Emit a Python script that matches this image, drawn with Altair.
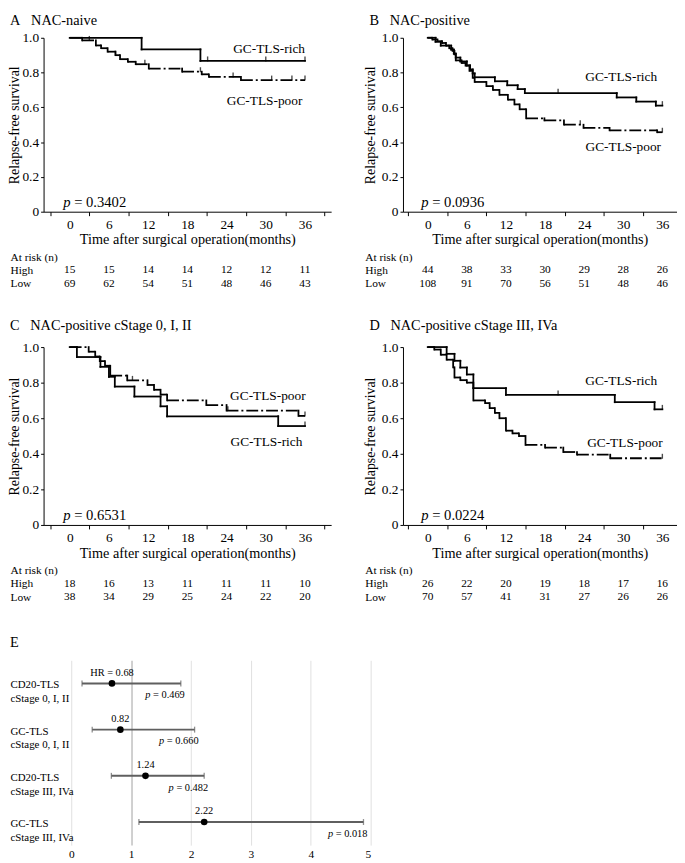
import altair as alt
import pandas as pd

FONT = "Liberation Serif"
MONTHS = [0, 6, 12, 18, 24, 30, 36]
RISK_ROWS = ["At risk (n)", "High", "Low"]
Y_TICKS = [0, 0.2, 0.4, 0.6, 0.8, 1.0]
X_TICKS = [-3, 0, 3, 6, 9, 12, 15, 18, 21, 24, 27, 30, 33, 36, 39]

# ---------------- Panel A : NAC-naive ----------------
A_rich_t = [11.0, 20.0]
A_rich_s = [0.933, 0.867]
A_rich_cens = [21.1, 30.0, 36.0]
A_poor_t = [1.9, 4.0, 4.8, 5.8, 7.0, 7.7, 8.9, 10.1, 12.1, 17.2, 20.2, 21.3, 26.2]
A_poor_s = [0.985, 0.956, 0.940, 0.920, 0.900, 0.877, 0.862, 0.848, 0.823, 0.805, 0.790, 0.775, 0.757]
A_poor_cens = [3.0, 7.0, 11.5, 20.0, 25.0, 30.9, 34.0, 36.0]
A_high = [15, 15, 14, 14, 12, 12, 11]
A_low = [69, 62, 54, 51, 48, 46, 43]
A_p = "0.3402"

# ---------------- Panel B : NAC-positive ----------------
B_rich_t = [1.2, 2.0, 3.6, 4.0, 4.3, 5.0, 6.0, 6.5, 6.9, 7.2, 10.3, 12.2, 13.8, 14.9, 29.0, 32.0, 35.0]
B_rich_s = [0.977, 0.955, 0.932, 0.909, 0.886, 0.864, 0.841, 0.818, 0.795, 0.773,
            0.750, 0.727, 0.705, 0.682, 0.657, 0.633, 0.610]
B_rich_cens = [20.0, 36.0]
B_poor_t = [0.7, 1.5, 2.2, 2.8, 3.3, 3.8, 4.1, 4.3, 5.2, 5.8, 6.4, 6.9, 7.2, 9.0, 10.0, 11.0,
            12.3, 13.3, 14.1, 15.1, 17.9, 20.9, 23.9, 27.9, 35.2]
B_poor_s = [0.990, 0.980, 0.970, 0.955, 0.940, 0.925, 0.905, 0.870, 0.855, 0.840, 0.810, 0.770,
            0.746, 0.722, 0.700, 0.672, 0.644, 0.617, 0.589, 0.537, 0.525, 0.500, 0.482, 0.468, 0.457]
B_poor_cens = [23.4, 36.0]
B_high = [44, 38, 33, 30, 29, 28, 26]
B_low = [108, 91, 70, 56, 51, 48, 46]
B_p = "0.0936"

# ---------------- Panel C : NAC-positive cStage 0, I, II ----------------
C_rich_t = [1.1, 4.7, 6.0, 6.9, 9.9, 13.9, 14.9, 31.9]
C_rich_s = [0.944, 0.889, 0.833, 0.778, 0.722, 0.667, 0.611, 0.556]
C_rich_cens = [36.0]
C_poor_t = [2.9, 3.9, 4.6, 5.4, 6.2, 8.8, 11.9, 12.9, 13.9, 14.9, 20.9, 24.0, 35.0]
C_poor_s = [0.974, 0.947, 0.921, 0.895, 0.840, 0.813, 0.787, 0.760, 0.733, 0.700, 0.674, 0.643, 0.613]
C_poor_cens = [9.6, 24.2, 36.0]
C_high = [18, 16, 13, 11, 11, 11, 10]
C_low = [38, 34, 29, 25, 24, 22, 20]
C_p = "0.6531"

# ---------------- Panel D : NAC-positive cStage III, IVa ----------------
D_rich_t = [2.9, 4.1, 5.0, 6.0, 7.0, 12.0, 28.7, 34.8]
D_rich_s = [0.962, 0.923, 0.885, 0.846, 0.769, 0.731, 0.690, 0.650]
D_rich_cens = [20.0, 36.0]
D_poor_t = [1.0, 2.0, 2.9, 3.9, 4.1, 5.0, 6.0, 7.0, 8.8, 9.5, 10.3, 11.0, 12.0, 13.0, 14.0,
            15.0, 18.0, 20.8, 22.9, 28.0]
D_poor_s = [0.986, 0.957, 0.929, 0.886, 0.829, 0.814, 0.800, 0.700, 0.685, 0.657, 0.630, 0.600,
            0.530, 0.515, 0.500, 0.450, 0.435, 0.410, 0.395, 0.375]
D_poor_cens = [36.0]
D_high = [26, 22, 20, 19, 18, 17, 16]
D_low = [70, 57, 41, 31, 27, 26, 26]
D_p = "0.0224"

# ---------------- Panel E : hazard ratios ----------------
E_rows = ["CD20-TLS|cStage 0, I, II", "GC-TLS|cStage 0, I, II",
          "CD20-TLS|cStage III, IVa", "GC-TLS|cStage III, IVa"]
E_hr = [0.68, 0.82, 1.24, 2.22]
E_lo = [0.18, 0.35, 0.67, 1.13]
E_hi = [1.83, 2.06, 2.22, 4.88]
E_hr_text = ["HR = 0.68", "0.82", "1.24", "2.22"]
E_p = ["0.469", "0.660", "0.482", "0.018"]


def step_at(ts, ss, t):
    s = 1.0
    for ti, si in zip(ts, ss):
        if ti <= t:
            s = si
    return s


def step_frames(ts, ss, end=36.0):
    horiz, vert = [], []
    pt, ps = 0.0, 1.0
    for t, s in zip(ts, ss):
        horiz.append({"x": pt, "x2": t, "y": ps, "y2": ps})
        vert.append({"x": t, "x2": t, "y": ps, "y2": s})
        pt, ps = t, s
    horiz.append({"x": pt, "x2": end, "y": ps, "y2": ps})
    return pd.DataFrame(horiz), pd.DataFrame(vert)


def km_panel(letter, name, rich, poor, high, low, pval, rich_lab, poor_lab,
             xdom, width, height, title_offset, ytitle_pad, row_pad):
    rich_t, rich_s, rich_c = rich
    poor_t, poor_s, poor_c = poor
    xs = alt.Scale(domain=xdom, nice=False, zero=False)
    ys = alt.Scale(domain=[0, 1], nice=False, zero=False)
    xaxis = alt.Axis(
        values=[v for v in X_TICKS if xdom[0] <= v <= xdom[1]],
        labelExpr="(datum.value % 6 == 0 && datum.value >= 0) ? datum.label : ''",
        tickOpacity={"condition": {"test": "datum.value % 6 != 0", "value": 1}, "value": 0},
        tickSize=4, labelPadding=2, labelFontSize=13.5, labelFlush=False, labelOverlap=False,
        title="Time after surgical operation(months)", titleFontSize=14.4,
        titleFontWeight="normal", titlePadding=2, grid=False,
        domainColor="black", tickColor="black",
    )
    yaxis = alt.Axis(
        values=Y_TICKS,
        labelExpr="datum.value == 0 ? '0' : format(datum.value, '.1f')",
        tickSize=3, labelPadding=2, labelFontSize=13.5, labelFlush=False, labelOverlap=False,
        title="Relapse-free survival", titleFontSize=14, titleFontWeight="normal",
        titlePadding=ytitle_pad, grid=False, domainColor="black", tickColor="black",
    )

    def X(field):
        return alt.X(field, scale=xs, axis=xaxis)

    def Y(field):
        return alt.Y(field, scale=ys, axis=yaxis)

    rh, rv = step_frames(rich_t, rich_s)
    ph, pv = step_frames(poor_t, poor_s)
    rich_df = pd.concat([rh, rv], ignore_index=True)

    rich_line = alt.Chart(rich_df).mark_rule(
        color="black", strokeWidth=1.8, strokeCap="square").encode(
        x=X("x:Q"), x2="x2:Q", y=Y("y:Q"), y2="y2:Q")
    poor_h = alt.Chart(ph).mark_rule(
        color="black", strokeWidth=1.8, strokeDash=[12, 3, 2, 3]).encode(
        x=X("x:Q"), x2="x2:Q", y=Y("y:Q"), y2="y2:Q")
    poor_v = alt.Chart(pv).mark_rule(
        color="black", strokeWidth=1.8, strokeCap="square").encode(
        x=X("x:Q"), x2="x2:Q", y=Y("y:Q"), y2="y2:Q")

    cens = pd.DataFrame({
        "x": list(rich_c) + list(poor_c),
        "y": [step_at(rich_t, rich_s, c) for c in rich_c] + [step_at(poor_t, poor_s, c) for c in poor_c],
    })
    cens_layer = alt.Chart(cens).mark_tick(
        orient="vertical", size=5, thickness=1.4, color="black", yOffset=-2).encode(
        x=X("x:Q"), y=Y("y:Q"))

    def label(txt, pos):
        return alt.Chart(pd.DataFrame({"t": [txt]})).mark_text(
            align="right", baseline="middle", fontSize=13.5, font=FONT, color="black").encode(
            x=alt.XDatum(pos[0], scale=xs, axis=xaxis),
            y=alt.YDatum(pos[1], scale=ys, axis=yaxis), text="t:N")

    p1 = alt.Chart(pd.DataFrame({"t": ["p"]})).mark_text(
        align="left", baseline="middle", fontSize=14.8, fontStyle="italic",
        font=FONT, color="black").encode(
        x=alt.XDatum(-1.0, scale=xs, axis=xaxis), y=alt.YDatum(0.05, scale=ys, axis=yaxis),
        text="t:N")
    p2 = alt.Chart(pd.DataFrame({"t": ["= " + pval]})).mark_text(
        align="left", baseline="middle", fontSize=14.8, dx=11.1,
        font=FONT, color="black").encode(
        x=alt.XDatum(-1.0, scale=xs, axis=xaxis), y=alt.YDatum(0.05, scale=ys, axis=yaxis),
        text="t:N")

    curves = alt.layer(rich_line, poor_h, poor_v, cens_layer,
                       label("GC-TLS-rich", rich_lab), label("GC-TLS-poor", poor_lab), p1, p2)

    risk = pd.DataFrame({"t": MONTHS * 2, "g": ["High"] * 7 + ["Low"] * 7, "n": list(high) + list(low)})
    table = alt.Chart(risk).mark_text(
        baseline="middle", fontSize=11.5, font=FONT, color="black").encode(
        x=X("t:Q"),
        y=alt.Y("g:N", scale=alt.Scale(type="point", domain=RISK_ROWS,
                                       range=[height + 46, height + 73], padding=0),
                axis=alt.Axis(orient="left", domain=False, ticks=False, tickSize=0,
                              labelAlign="left", labelPadding=row_pad, labelFontSize=11.5,
                              labelBaseline="middle", title=None, grid=False,
                              labelOverlap=False)),
        text="n:Q")

    return alt.layer(curves, table).resolve_scale(y="independent").properties(
        width=width, height=height,
        title=alt.TitleParams(text=f"{letter}\u2002 {name}", anchor="start", dx=-34,
                              frame="group", offset=title_offset, font=FONT, fontSize=14.5,
                              fontWeight="normal", color="black"))


A = km_panel("A", "NAC-naive", (A_rich_t, A_rich_s, A_rich_cens), (A_poor_t, A_poor_s, A_poor_cens),
             A_high, A_low, A_p, (36.0, 0.938), (35.6, 0.635),
             [-4, 40], 291, 176, 2.5, 0, 34)
B = km_panel("B", "NAC-positive", (B_rich_t, B_rich_s, B_rich_cens), (B_poor_t, B_poor_s, B_poor_cens),
             B_high, B_low, B_p, (35.2, 0.775), (35.8, 0.372),
             [-3.8, 38.2], 277, 176, 2.5, 4, 38.7)
C = km_panel("C", "NAC-positive cStage 0, I, II", (C_rich_t, C_rich_s, C_rich_cens),
             (C_poor_t, C_poor_s, C_poor_cens),
             C_high, C_low, C_p, (35.6, 0.465), (36.1, 0.726),
             [-4, 40], 291, 180, 7, 0, 34)
D = km_panel("D", "NAC-positive cStage III, IVa", (D_rich_t, D_rich_s, D_rich_cens),
             (D_poor_t, D_poor_s, D_poor_cens),
             D_high, D_low, D_p, (35.2, 0.81), (36.05, 0.46),
             [-3.8, 38.2], 277, 180, 7, 4, 38.7)

# ---------------- Panel E ----------------
E_df = pd.DataFrame({"row": E_rows, "hr": E_hr, "lo": E_lo, "hi": E_hi,
                     "hr_txt": E_hr_text, "p_txt": ["= " + p for p in E_p]})
E_xs = alt.Scale(domain=[-0.462, 5], nice=False, zero=False)
E_ys = alt.Scale(domain=E_rows)
E_xaxis = alt.Axis(values=[0, 1, 2, 3, 4, 5], grid=True, domain=False, ticks=False, tickSize=0,
                   labelPadding=4, labelFontSize=11.5, format="d", title=None,
                   gridColor={"condition": {"test": "datum.value == 1", "value": "#c4c4c4"},
                              "value": "#e0e0e0"},
                   gridWidth={"condition": {"test": "datum.value == 1", "value": 1.6},
                              "value": 1})
E_yaxis = alt.Axis(domain=False, ticks=False, tickSize=0, labelAlign="left", labelPadding=34,
                   labelExpr="split(datum.label, '|')", labelLineHeight=14, labelFontSize=11,
                   labelBaseline="middle", labelOffset=2, grid=False, title=None,
                   labelOverlap=False)


def EX(field):
    return alt.X(field, scale=E_xs, axis=E_xaxis)


def EY(field):
    return alt.Y(field, scale=E_ys, axis=E_yaxis)


E_base = alt.Chart(E_df)
E_ci = E_base.mark_rule(color="#5f5f5f", strokeWidth=2).encode(
    x=EX("lo:Q"), x2="hi:Q", y=EY("row:N"))
E_cap_lo = E_base.mark_tick(orient="vertical", size=6, thickness=1.3, color="#5f5f5f").encode(
    x=EX("lo:Q"), y=EY("row:N"))
E_cap_hi = E_base.mark_tick(orient="vertical", size=6, thickness=1.3, color="#5f5f5f").encode(
    x=EX("hi:Q"), y=EY("row:N"))
E_pts = E_base.mark_point(filled=True, color="black", size=45, opacity=1).encode(
    x=EX("hr:Q"), y=EY("row:N"))
E_hr_lab = E_base.mark_text(dy=-11, fontSize=10.5, font=FONT, color="black").encode(
    x=EX("hr:Q"), y=EY("row:N"), text="hr_txt:N")
E_p_it = E_base.mark_text(text="p", align="left", dx=-36, dy=12, fontSize=10.5,
                          fontStyle="italic", font=FONT, color="black").encode(
    x=EX("hi:Q"), y=EY("row:N"))
E_p_rest = E_base.mark_text(align="left", dx=-28.1, dy=12, fontSize=10.5,
                            font=FONT, color="black").encode(
    x=EX("hi:Q"), y=EY("row:N"), text="p_txt:N")

E = alt.layer(E_ci, E_cap_lo, E_cap_hi, E_pts, E_hr_lab, E_p_it, E_p_rest).properties(
    width=331, height=187,
    title=alt.TitleParams(text="E", anchor="start", dx=-34, offset=9.5, font=FONT,
                          frame="group", fontSize=14.5, fontWeight="normal", color="black"))

chart = alt.concat(A, B, C, D, E, columns=2, spacing={"row": 137, "column": 32.7},
                   bounds="flush", align="each").properties(
    padding=0, background="white"
).configure_view(stroke=None).configure_axis(
    labelFont=FONT, titleFont=FONT, labelColor="black", titleColor="black"
).configure_text(font=FONT, color="black").configure_title(font=FONT, color="black")

chart.save("out.html", embed_options={"renderer": "svg", "actions": False})
